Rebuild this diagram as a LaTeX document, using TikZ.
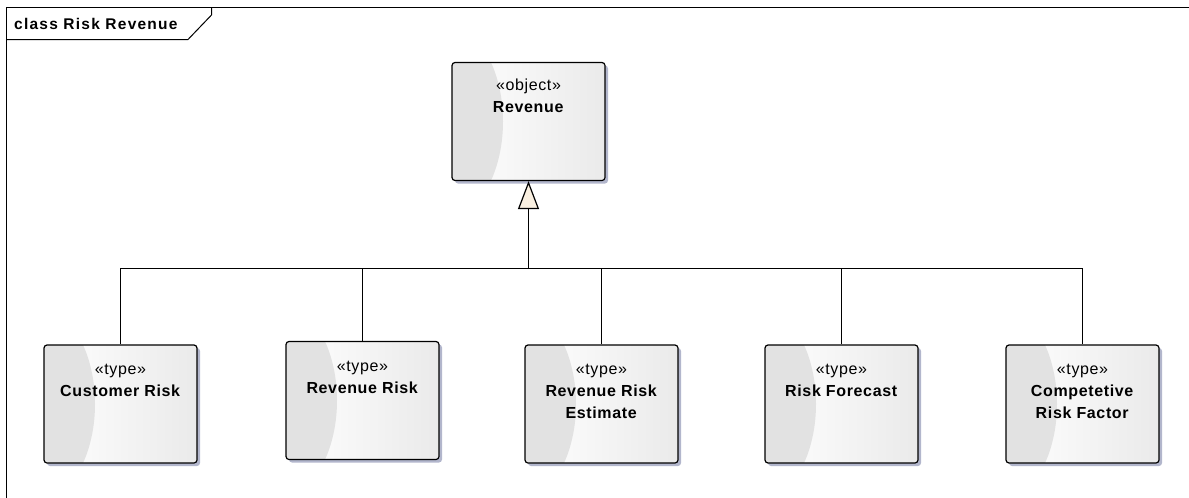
\documentclass[tikz,border=0pt]{standalone}
\usepackage{fontspec}
\setmainfont{Liberation Sans}
\newfontfamily\umlfont[LetterSpace=4]{Liberation Sans}
\newfontfamily\titlefont[LetterSpace=8]{Liberation Sans}
\usetikzlibrary{positioning,calc,shadows,arrows.meta}
\definecolor{crescent}{RGB}{226,226,226}
\definecolor{boxright}{RGB}{234,234,234}
\definecolor{shade}{RGB}{178,182,204}
\definecolor{cream}{RGB}{250,240,225}
\tikzset{
	umlbox/.style={draw, line width=1.2pt, rounded corners=3pt, minimum width=153pt, minimum height=118pt, inner sep=0pt,
		left color=white, right color=boxright,
		drop shadow={shadow xshift=3pt, shadow yshift=-3pt, fill=shade, opacity=1},
		path picture={\fill[crescent] ($(path picture bounding box.west)+(-11pt,0)$) ellipse [x radius=62pt, y radius=100pt];}},
	boxtext/.style={font=\umlfont\fontsize{16}{22}\selectfont, align=center, inner sep=0pt},
	link/.style={line width=1.2pt},
	frame/.style={line width=1pt},
}
\begin{document}
\begin{tikzpicture}[x=1pt,y=-1pt]
				\useasboundingbox (0,0) rectangle (1189,498);
				\coordinate (F1) at (6.5,498);
				\coordinate (F2) at (6.5,7.5);
				\coordinate (F3) at (1189,7.5);
				\coordinate (T1) at (6.5,39.5);
				\coordinate (T2) at (188,39.5);
				\coordinate (T3) at (211.5,15);
				\coordinate (T4) at (211.5,7.5);
				\draw[frame] (F1) -- (F2) -- (F3);
				\draw[frame] (T1) -- (T2) -- (T3) -- (T4);
				\node[anchor=west, inner sep=0pt, font=\titlefont\fontsize{15.5}{18}\selectfont\bfseries] (title) at (14,24) {class Risk Revenue};
				\node[umlbox] (rev) at (528.5,121.5) {};
				\node[umlbox] (cr) at (120.5,404) {};
				\node[umlbox] (rr) at (362.5,400.5) {};
				\node[umlbox] (rre) at (601.5,404) {};
				\node[umlbox] (rf) at (841.5,404) {};
				\node[umlbox] (crf) at (1082.5,404) {};
				\node[boxtext, below=17pt of rev.north] (revt) {«object»\\\textbf{Revenue}};
				\node[boxtext, below=20pt of cr.north] (crt) {«type»\\\textbf{Customer Risk}};
				\node[boxtext, below=20pt of rr.north] (rrt) {«type»\\\textbf{Revenue Risk}};
				\node[boxtext, below=20pt of rre.north] (rret) {«type»\\\textbf{Revenue Risk}\\\textbf{Estimate}};
				\node[boxtext, below=20pt of rf.north] (rft) {«type»\\\textbf{Risk Forecast}};
				\node[boxtext, below=20pt of crf.north] (crft) {«type»\\\textbf{Competetive}\\\textbf{Risk Factor}};
				\coordinate (bus) at (528.5,268.5);
				\draw[link, -{Triangle[width=21pt, length=28pt, fill=cream]}] (bus) -- (rev.south);
				\draw[link] (cr.north) |- (bus) -| (crf.north);
				\draw[link] (rr.north) -- (rr.north |- bus);
				\draw[link] (rre.north) -- (rre.north |- bus);
				\draw[link] (rf.north) -- (rf.north |- bus);
\end{tikzpicture}
\end{document}
